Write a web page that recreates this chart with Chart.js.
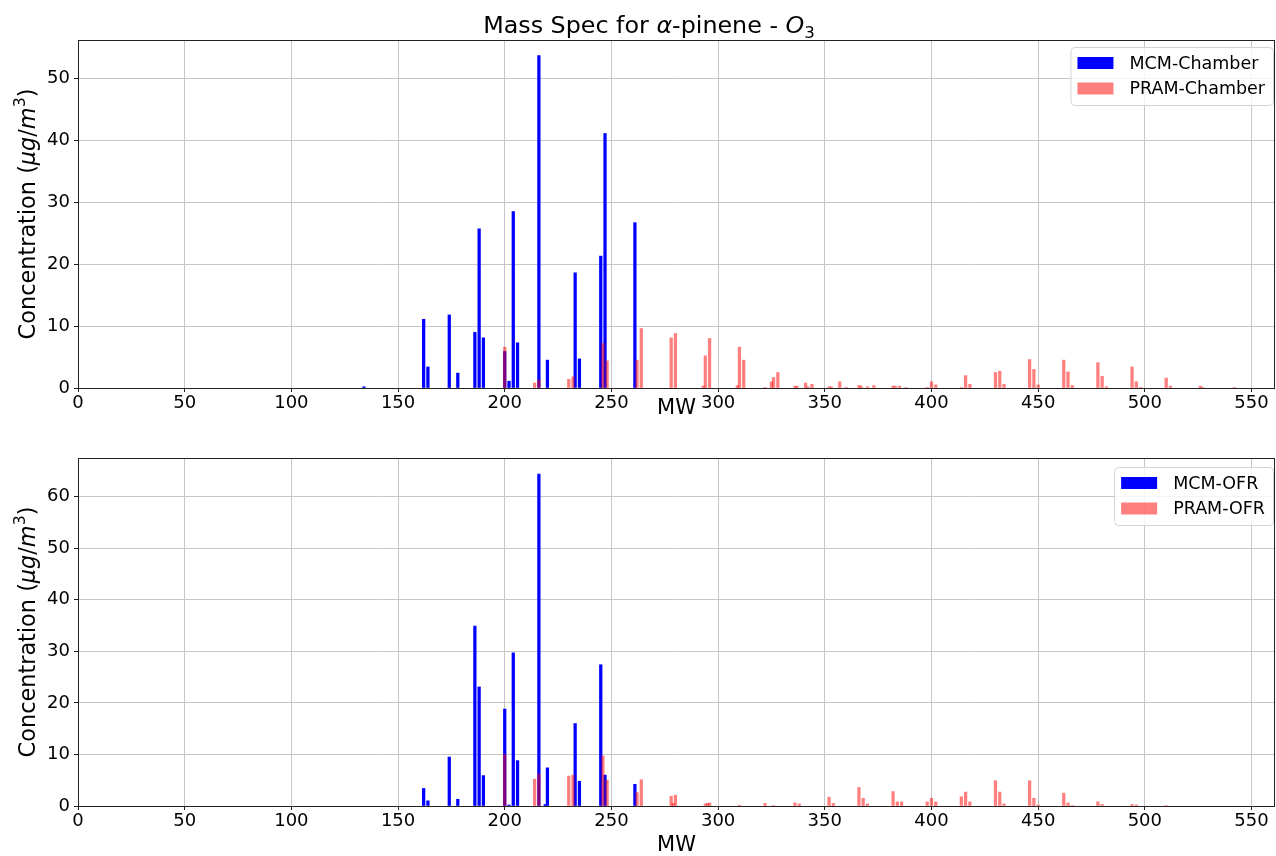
<!DOCTYPE html>
<html>
<head>
<meta charset="utf-8">
<script src="https://cdn.jsdelivr.net/npm/chart.js@4.4.0/dist/chart.umd.min.js"></script>
<style>
body{margin:0;background:#fff;}
.box{position:absolute;left:0;width:1276px;height:428px;}
</style>
</head>
<body>
<div class="box" style="top:0"><canvas id="chartTop"></canvas></div>
<div class="box" style="top:428px"><canvas id="chartBottom"></canvas></div>
<script>
const FONT = "'DejaVu Sans', sans-serif";

// top panel: chamber
const mwMcmChamber   = [134, 162, 164, 174, 178, 186, 188, 190, 200, 202, 204, 206, 216, 220, 233, 235, 245, 247, 261];
const concMcmChamber = [0.2, 11.1, 3.4, 11.8, 2.4, 9.0, 25.7, 8.1, 5.9, 1.1, 28.5, 7.3, 53.7, 4.5, 18.6, 4.7, 21.3, 41.1, 26.7];

const mwPramChamber   = [200, 214, 216, 230, 232, 246, 248, 262, 264, 278, 280, 293, 294, 296, 309, 310, 312, 322, 325, 326, 328,
                         336, 337, 341, 342, 344, 352, 353, 357, 360, 366, 367, 370, 373, 382, 383, 385, 388, 398, 400, 402,
                         414, 416, 418, 430, 432, 434, 446, 448, 450, 462, 464, 466, 478, 480, 482, 494, 496, 498, 510, 512, 526, 527, 542];
const concPramChamber = [6.6, 0.8, 1.3, 1.4, 1.8, 7.2, 4.4, 4.5, 9.6, 8.1, 8.8, 0.3, 5.2, 8.0, 0.4, 6.6, 4.5, 0.1, 1.0, 1.7, 2.5,
                         0.3, 0.3, 0.8, 0.2, 0.6, 0.2, 0.2, 1.0, 0.1, 0.4, 0.3, 0.2, 0.4, 0.3, 0.3, 0.3, 0.1, 0.1, 1.0, 0.5,
                         0.1, 2.0, 0.6, 2.5, 2.7, 0.6, 4.6, 3.0, 0.5, 4.5, 2.6, 0.4, 4.1, 1.9, 0.2, 3.4, 1.0, 0.1, 1.6, 0.3, 0.3, 0.1, 0.05];

// bottom panel: OFR
const mwMcmOfr   = [162, 164, 174, 178, 186, 188, 190, 200, 202, 204, 206, 216, 219, 220, 233, 235, 245, 247, 261];
const concMcmOfr = [3.4, 1.0, 9.5, 1.3, 34.9, 23.1, 5.9, 18.8, 0.2, 29.7, 8.8, 64.4, 0.3, 7.4, 16.0, 4.8, 27.4, 6.0, 4.2];

const mwPramOfr   = [200, 214, 216, 230, 232, 246, 248, 262, 264, 278, 279, 280, 294, 295, 296, 310, 322, 326, 336, 338,
                     352, 354, 366, 368, 370, 382, 384, 386, 398, 400, 402, 414, 416, 418, 430, 432, 434, 446, 448, 450,
                     462, 464, 466, 478, 480, 494, 496, 510];
const concPramOfr = [10.0, 5.2, 6.2, 5.8, 6.0, 9.7, 5.0, 2.6, 5.1, 1.9, 0.5, 2.1, 0.4, 0.5, 0.6, 0.15, 0.5, 0.1, 0.6, 0.4,
                     1.7, 0.5, 3.6, 1.5, 0.4, 2.8, 0.8, 0.8, 0.8, 1.5, 0.8, 1.8, 2.7, 0.8, 4.9, 2.7, 0.4, 4.9, 1.5, 0.2,
                     2.5, 0.6, 0.1, 0.8, 0.3, 0.3, 0.2, 0.1];

const xTicksStep = 50;
const yTicksStep = 10;

function toPoints(xs, ys) {
    return xs.map((x, i) => ({x: x, y: ys[i]}));
}

function fontFor(style, size) {
    const small = style === 'sub' || style === 'sup';
    return (style === 'i' ? 'italic ' : '') + (small ? size * 0.7 : size) + 'px ' + FONT;
}

// draw text made of pieces: [text, 'n' | 'i' | 'sub' | 'sup']
function drawRich(ctx, parts, x, y, size, align) {
    const widths = parts.map(p => { ctx.font = fontFor(p[1], size); return ctx.measureText(p[0]).width; });
    const total = widths.reduce((a, b) => a + b, 0);
    let cx = align === 'center' ? x - total / 2 : x;
    ctx.textAlign = 'left';
    ctx.textBaseline = 'middle';
    parts.forEach((p, i) => {
        ctx.font = fontFor(p[1], size);
        let dy = 0;
        if (p[1] === 'sub') dy = size * 0.28;
        if (p[1] === 'sup') dy = -size * 0.38;
        ctx.fillText(p[0], cx, y + dy);
        cx += widths[i];
    });
}

const decor = {
    id: 'decor',
    afterDraw(chart, args, opts) {
        const ctx = chart.ctx;
        const ca = chart.chartArea;
        ctx.save();
        ctx.fillStyle = '#000';

        // frame
        ctx.strokeStyle = '#222';
        ctx.lineWidth = 1;
        ctx.strokeRect(Math.round(ca.left) + 0.5, Math.round(ca.top) + 0.5,
                       Math.round(ca.right - ca.left) - 1, Math.round(ca.bottom - ca.top));

        // title
        if (opts.title) {
            drawRich(ctx, [['Mass Spec for ', 'n'], ['\u03b1', 'i'], ['-pinene - ', 'n'], ['O', 'i'], ['3', 'sub']],
                     649, 27, 23.8, 'center');
        }

        // x label
        ctx.fillStyle = '#000';
        ctx.font = '21px ' + FONT;
        ctx.textAlign = 'center';
        ctx.textBaseline = 'middle';
        ctx.fillText('MW', (ca.left + ca.right) / 2, ca.bottom + opts.xLabelGap);

        // y label
        ctx.save();
        ctx.translate(29, (ca.top + ca.bottom) / 2);
        ctx.rotate(-Math.PI / 2);
        drawRich(ctx, [['Concentration (', 'n'], ['\u03bcg', 'i'], ['/', 'n'], ['m', 'i'], ['3', 'sup'], [')', 'n']],
                 0, 0, 22.4, 'center');
        ctx.restore();

        // legend
        const sets = chart.data.datasets;
        ctx.font = '17.5px ' + FONT;
        const tw = Math.max(...sets.map(d => ctx.measureText(d.label).width));
        const boxW = 59 + tw + 8;
        const right = ca.right - 2;
        const left = right - boxW;
        const top = ca.top + opts.legendTop;
        const h = 58;
        ctx.beginPath();
        ctx.roundRect(left + 0.5, top + 0.5, boxW, h, 4);
        ctx.fillStyle = 'rgba(255,255,255,0.8)';
        ctx.fill();
        ctx.strokeStyle = '#d4d4d4';
        ctx.stroke();
        sets.forEach((d, i) => {
            const cy = top + 16 + i * 25.5;
            ctx.fillStyle = d.backgroundColor;
            ctx.fillRect(left + 7, cy - 6, 36, 12);
            ctx.fillStyle = '#000';
            ctx.textAlign = 'left';
            ctx.textBaseline = 'middle';
            ctx.fillText(d.label, left + 59, cy + 1);
        });
        ctx.restore();
    }
};

function makeChart(id, mcmLabel, mcmX, mcmY, pramLabel, pramX, pramY, yMax, padTop, xAxisHeight, decorOpts) {
    return new Chart(document.getElementById(id).getContext('2d'), {
        type: 'bar',
        data: {
            datasets: [{
                label: mcmLabel,
                data: toPoints(mcmX, mcmY),
                backgroundColor: '#0000ff',
                order: 1
            }, {
                label: pramLabel,
                data: toPoints(pramX, pramY),
                backgroundColor: 'rgba(255,0,0,0.5)',
                order: 0
            }]
        },
        options: {
            responsive: true,
            maintainAspectRatio: false,
            animation: false,
            layout: { padding: { top: padTop, right: 1, left: 0, bottom: 0 } },
            datasets: { bar: { grouped: false, barThickness: 2.6 } },
            plugins: {
                legend: { display: false },
                tooltip: { enabled: false },
                decor: decorOpts
            },
            scales: {
                x: {
                    type: 'linear',
                    min: 0,
                    max: 561,
                    offset: false,
                    afterFit: s => { s.height = xAxisHeight; },
                    grid: { offset: false, color: '#c6c6c6', lineWidth: 1, tickColor: '#222', tickLength: 4 },
                    border: { display: false },
                    ticks: { stepSize: xTicksStep, includeBounds: false, maxRotation: 0, padding: 1,
                             color: '#000', font: { family: FONT, size: 18 } }
                },
                y: {
                    min: 0,
                    max: yMax,
                    afterFit: s => { s.width = 78; },
                    grid: { color: '#c6c6c6', lineWidth: 1, tickColor: '#222', tickLength: 4 },
                    border: { display: false },
                    ticks: { stepSize: yTicksStep, includeBounds: false, padding: 4,
                             color: '#000', font: { family: FONT, size: 18 } }
                }
            }
        },
        plugins: [decor]
    });
}

makeChart('chartTop', 'MCM-Chamber', mwMcmChamber, concMcmChamber,
          'PRAM-Chamber', mwPramChamber, concPramChamber,
          56.2, 40, 40, { title: true, xLabelGap: 21, legendTop: 7 });

makeChart('chartBottom', 'MCM-OFR', mwMcmOfr, concMcmOfr,
          'PRAM-OFR', mwPramOfr, concPramOfr,
          67.5, 30, 50, { title: false, xLabelGap: 40, legendTop: 9 });
</script>
</body>
</html>
